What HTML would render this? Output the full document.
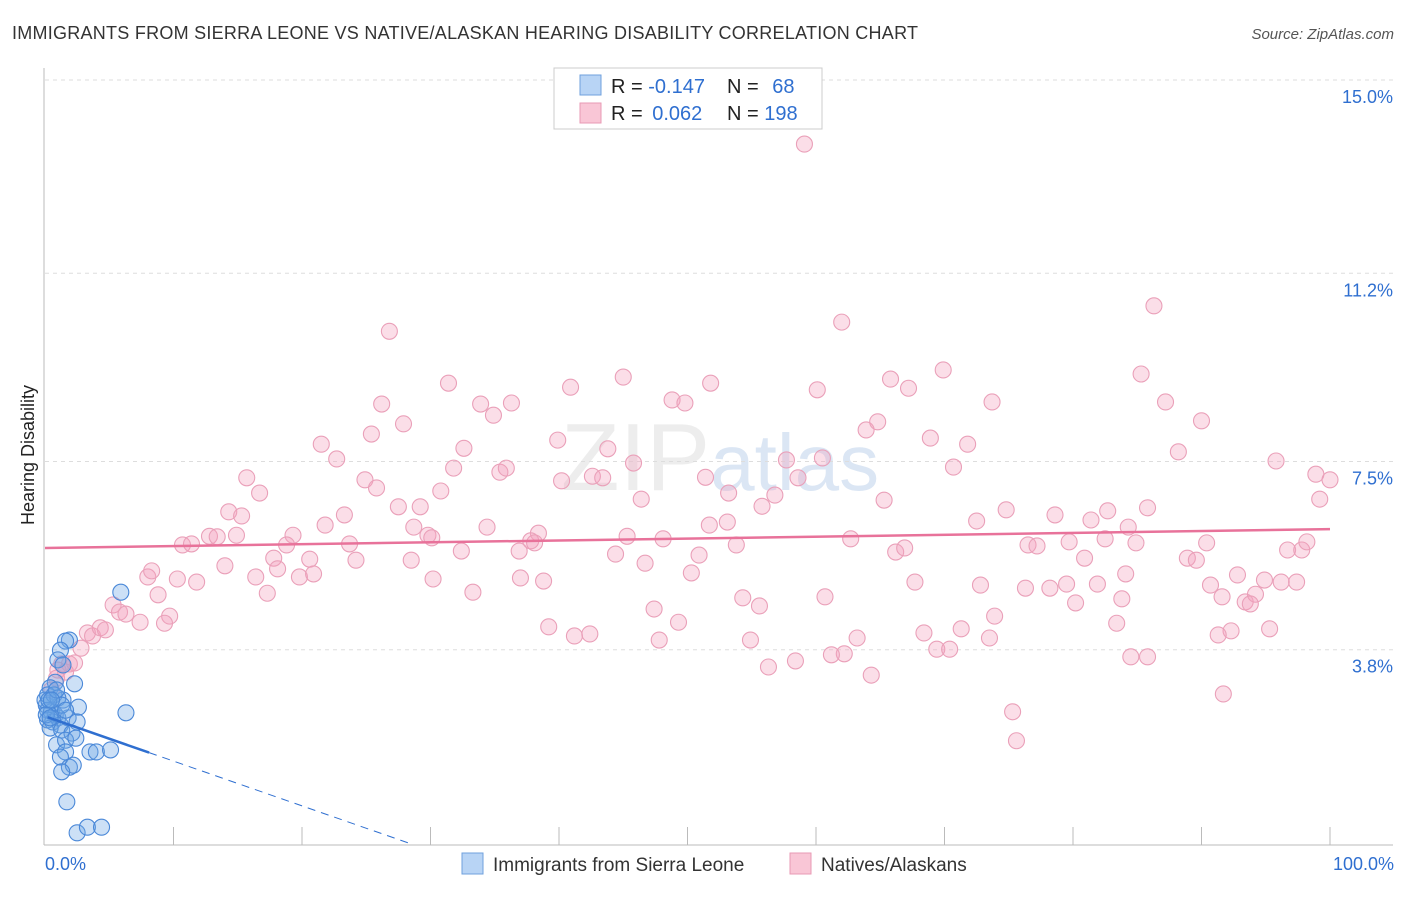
<!DOCTYPE html>
<html><head><meta charset="utf-8"><style>
body{margin:0;background:#fff;font-family:"Liberation Sans",sans-serif;}
svg text{font-family:"Liberation Sans",sans-serif;}
</style></head><body>
<svg id="chart" width="1406" height="892">
<text x="12" y="39" font-size="18" fill="#333" textLength="906">IMMIGRANTS FROM SIERRA LEONE VS NATIVE/ALASKAN HEARING DISABILITY CORRELATION CHART</text>
<text x="1394" y="39" font-size="15" fill="#555" font-style="italic" text-anchor="end">Source: ZipAtlas.com</text>
<text x="0" y="0" font-size="18" fill="#222" transform="translate(34,455) rotate(-90)" text-anchor="middle">Hearing Disability</text>
<text x="720" y="490" font-size="96" fill="#ccc" opacity="0.35" text-anchor="middle" font-family="Liberation Serif">ZIP<tspan fill="#9bb8e0" font-family="Liberation Sans" font-size="80">atlas</tspan></text>
<g id="grid"></g><g id="axes"></g><g id="pinkG"></g><g id="blueG"></g><g id="lines"></g>
<g>
<rect x="554" y="68" width="268" height="61" fill="#fff" stroke="#ccc"/>
<rect x="580" y="75" width="21" height="20" fill="#b8d4f5" stroke="#6fa0dd"/>
<rect x="580" y="103" width="21" height="20" fill="#f9c6d6" stroke="#e89ab4"/>
<text x="611" y="93" font-size="20" fill="#222">R = <tspan fill="#2f6fd0">-0.147</tspan></text>
<text x="727" y="93" font-size="20" fill="#222">N = <tspan fill="#2f6fd0" dx="8">68</tspan></text>
<text x="611" y="120" font-size="20" fill="#222">R = <tspan fill="#2f6fd0" dx="4">0.062</tspan></text>
<text x="727" y="120" font-size="20" fill="#222">N = <tspan fill="#2f6fd0">198</tspan></text>
</g>
<g>
<rect x="462" y="853" width="21" height="21" fill="#b8d4f5" stroke="#6fa0dd"/>
<text x="493" y="871" font-size="19" fill="#333">Immigrants from Sierra Leone</text>
<rect x="790" y="853" width="21" height="21" fill="#f9c6d6" stroke="#e89ab4"/>
<text x="821" y="871" font-size="19" fill="#333">Natives/Alaskans</text>
</g>
<text x="45" y="870" font-size="18" fill="#2f6fd0">0.0%</text>
<text x="1394" y="870" font-size="18" fill="#2f6fd0" text-anchor="end">100.0%</text>
</svg>
<script>
const yTicks=[3.8,7.5,11.2,15.0];
const yTickLabels=["3.8%","7.5%","11.2%","15.0%"];
const pinkX=[59.1,26.8,62.0,86.3,31.4,40.9,45.0,51.8,60.1,65.8,67.2,69.9,85.3,26.2,33.9,36.3,34.9,48.8,49.8,73.7,87.2,27.9,25.4,21.5,32.6,39.9,43.8,63.9,64.8,68.9,71.8,90.0,88.2,22.7,31.8,35.4,35.9,45.8,57.7,60.5,70.7,95.8,15.7,24.9,25.8,40.2,42.6,43.4,51.4,58.6,98.9,100.0,16.7,30.8,46.4,53.2,56.8,65.3,99.2,14.3,15.3,23.3,21.8,28.7,27.5,29.2,34.4,38.4,51.7,53.1,55.8,72.5,74.8,78.6,81.4,82.7,85.8,84.3,10.7,11.4,12.8,13.4,14.9,19.3,17.8,18.8,23.7,24.2,28.5,29.8,30.1,32.4,36.9,37.8,38.1,44.4,45.3,48.1,50.9,53.8,62.7,66.2,66.9,76.5,77.2,79.7,80.9,82.5,84.9,90.4,88.9,89.6,96.7,97.8,98.2,8.0,8.3,10.3,11.8,14.0,16.4,18.1,19.8,20.6,20.9,30.2,37.0,38.8,46.7,50.3,67.7,72.8,76.3,78.2,79.5,81.9,84.1,90.7,92.8,94.9,96.2,97.4,5.3,5.8,6.3,8.8,9.7,7.4,9.3,17.3,33.3,47.4,49.3,54.3,55.6,60.7,73.9,80.2,83.8,91.6,93.4,94.2,93.8,83.4,95.3,3.3,3.7,4.3,4.7,2.8,39.2,41.2,42.4,47.8,54.9,63.2,68.4,71.3,73.5,92.3,91.3,84.5,85.8,69.4,70.4,62.2,61.2,58.4,56.3,64.3,91.7,75.3,75.6,1.3,1.9,2.3,0.9,0.5,1.0,1.6];
const pinkY=[13.74,10.06,10.24,10.56,9.04,8.96,9.16,9.04,8.91,9.12,8.94,9.30,9.22,8.63,8.63,8.65,8.41,8.71,8.65,8.67,8.67,8.24,8.04,7.84,7.76,7.92,7.75,8.12,8.28,7.96,7.84,8.30,7.69,7.55,7.37,7.29,7.37,7.47,7.53,7.57,7.39,7.51,7.18,7.14,6.98,7.12,7.21,7.18,7.19,7.18,7.25,7.14,6.88,6.92,6.76,6.88,6.84,6.74,6.76,6.51,6.43,6.45,6.25,6.21,6.61,6.61,6.21,6.09,6.25,6.31,6.62,6.33,6.55,6.45,6.35,6.53,6.59,6.21,5.86,5.88,6.03,6.02,6.05,6.05,5.60,5.86,5.88,5.56,5.56,6.05,6.00,5.74,5.74,5.94,5.90,5.68,6.03,5.98,5.66,5.86,5.98,5.72,5.80,5.86,5.84,5.92,5.60,5.98,5.90,5.90,5.60,5.56,5.76,5.76,5.92,5.23,5.35,5.19,5.13,5.45,5.23,5.39,5.23,5.58,5.29,5.19,5.21,5.15,5.50,5.31,5.13,5.07,5.01,5.01,5.09,5.09,5.29,5.07,5.27,5.17,5.13,5.13,4.68,4.54,4.50,4.88,4.46,4.34,4.32,4.91,4.93,4.60,4.34,4.82,4.66,4.84,4.46,4.72,4.80,4.84,4.74,4.89,4.70,4.32,4.21,4.13,4.07,4.23,4.19,3.83,4.25,4.07,4.11,3.99,3.99,4.03,4.13,4.21,4.03,4.17,4.09,3.66,3.66,3.81,3.81,3.72,3.70,3.58,3.46,3.30,2.93,2.58,2.01,3.52,3.52,3.54,3.24,3.01,3.40,3.36];
const blueX=[5.9,1.9,1.6,1.2,1.0,1.4,2.3,0.8,0.4,1.4,2.6,0.1,0.2,0.5,0.8,0.2,0.6,1.0,1.2,1.8,2.5,0.4,1.3,2.1,0.9,1.6,2.4,1.6,1.2,3.5,4.0,5.1,6.3,1.9,2.2,1.3,1.7,2.5,3.3,4.4,0.0,0.2,0.7,1.0,1.3,1.6,0.1,0.4,0.3,0.9,0.5];
const blueY=[4.93,3.99,3.97,3.79,3.60,3.50,3.13,3.16,3.05,2.81,2.67,2.71,2.61,2.58,2.52,2.42,2.38,2.46,2.32,2.46,2.38,2.26,2.22,2.16,1.93,2.02,2.06,1.79,1.69,1.79,1.79,1.83,2.56,1.49,1.53,1.40,0.81,0.20,0.31,0.31,2.81,2.91,2.91,2.85,2.71,2.61,2.52,2.46,2.81,3.01,2.81];
const pinkTrend=[5.80,6.17];
const blueTrend=[2.49,-0.088];
const NS='http://www.w3.org/2000/svg';
const X0=45,X1=1330,Y0=843,YT=80;
const sx=v=>X0+v/100*(X1-X0);
const sy=v=>Y0-v/15*(Y0-YT);
function mk(t,a,p){const e=document.createElementNS(NS,t);for(const k in a)e.setAttribute(k,a[k]);p.appendChild(e);return e;}
const grid=document.getElementById('grid');
yTicks.forEach((v,i)=>{
 const l=mk('line',{x1:X0,x2:1393,y1:sy(v),y2:sy(v),stroke:'#ddd','stroke-dasharray':'4,4'},grid);
 
 
 const t=mk('text',{x:1393,y:sy(v)+23,'font-size':18,fill:'#2f6fd0','text-anchor':'end'},grid);
 t.textContent=yTickLabels[i];
 
 
});
const axes=document.getElementById('axes');
const ya=mk('line',{x1:X0-1,x2:X0-1,y1:68,y2:Y0+2,stroke:'#bbb'},axes);


const xa=mk('line',{x1:X0-1,x2:1393,y1:Y0+2,y2:Y0+2,stroke:'#bbb'},axes);


for(let i=1;i<=10;i++){const t=mk('line',{x1:sx(i*10),x2:sx(i*10),y1:Y0-16,y2:Y0+2,stroke:'#bbb'},axes);
 
 }
const pg=document.getElementById('pinkG');
pinkX.forEach((x,i)=>{const c=mk('circle',{cx:sx(x),cy:sy(pinkY[i]),r:8,fill:'rgba(244,160,190,0.35)',stroke:'#eaa0b9','stroke-width':1.1},pg);
 
 });
const bg=document.getElementById('blueG');
blueX.forEach((x,i)=>{const c=mk('circle',{cx:sx(x),cy:sy(blueY[i]),r:8,fill:'rgba(110,165,230,0.35)',stroke:'#4a88d8','stroke-width':1.1},bg);
 
 });
const lg=document.getElementById('lines');
const pl=mk('line',{x1:sx(0),y1:sy(pinkTrend[0]),x2:sx(100),y2:sy(pinkTrend[1]),stroke:'#e8729a','stroke-width':2.5},lg);


const bf=x=>blueTrend[0]+blueTrend[1]*x;
const bl=mk('line',{x1:sx(0.2),y1:sy(bf(0.2)),x2:sx(8.1),y2:sy(bf(8.1)),stroke:'#2f6fd0','stroke-width':2.5},lg);


const xe=-blueTrend[0]/blueTrend[1];
const bd=mk('line',{x1:sx(8.1),y1:sy(bf(8.1)),x2:sx(xe),y2:sy(0),stroke:'#2f6fd0','stroke-width':1,'stroke-dasharray':'8,6'},lg);


</script>
</body></html>
